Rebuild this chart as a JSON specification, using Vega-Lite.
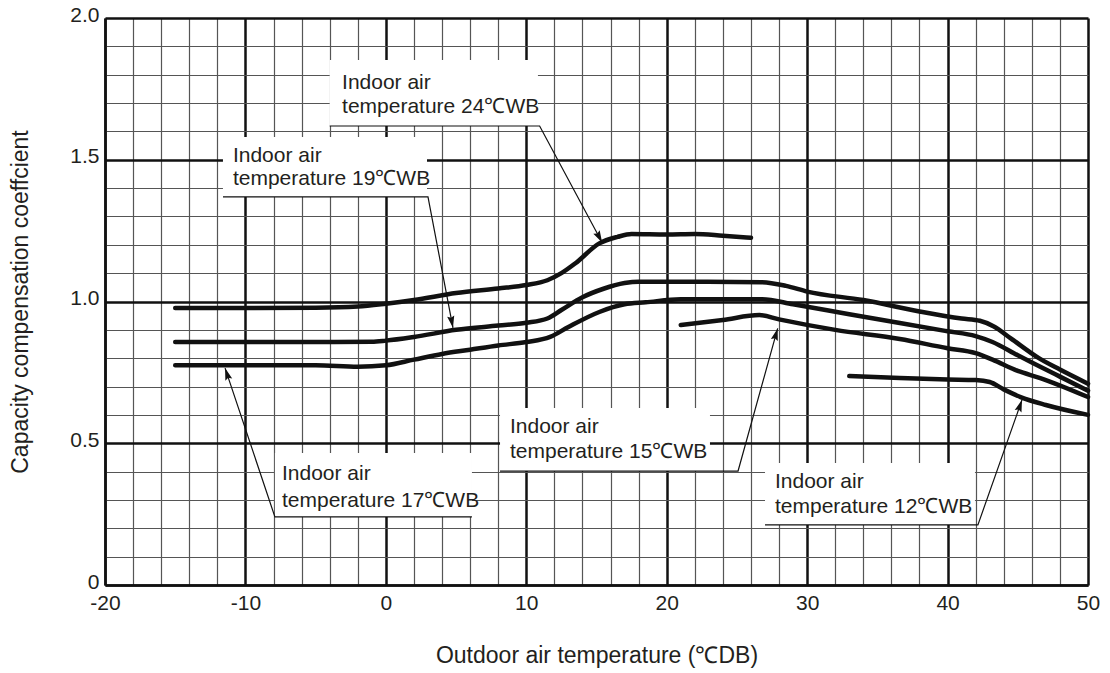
{
  "$schema": "https://vega.github.io/schema/vega-lite/v6.json",
  "width": 983,
  "height": 567,
  "autosize": {"type": "none"},
  "padding": {"left": 105, "top": 18, "right": 22, "bottom": 88},
  "background": "white",
  "config": {"view": {"stroke": null}},
  "layer": [
    {
      "data": {"values": [
        {"label": "24", "x1": -4.0, "x2": 10.83, "ytop": 1.852, "ybot": 1.619},
        {"label": "19", "x1": -11.6, "x2": 2.93, "ytop": 1.58, "ybot": 1.369},
        {"label": "17", "x1": -7.9, "x2": 6.13, "ytop": 0.466, "ybot": 0.24},
        {"label": "15", "x1": 8.13, "x2": 23.08, "ytop": 0.624, "ybot": 0.402},
        {"label": "12", "x1": 27.0, "x2": 41.95, "ytop": 0.43, "ybot": 0.212}
      ]},
      "mark": {"type": "rect", "fill": "white", "stroke": null},
      "encoding": {
        "x": {"field": "x1", "type": "quantitative",
          "scale": {"domain": [-20, 50], "nice": false, "zero": false},
          "axis": {
            "values": [-20,-18,-16,-14,-12,-10,-8,-6,-4,-2,0,2,4,6,8,10,12,14,16,18,20,22,24,26,28,30,32,34,36,38,40,42,44,46,48,50],
            "tickCount": 200,
            "grid": true,
            "gridColor": {"condition": {"test": "datum.value % 10 === 0", "value": "#111111"}, "value": "#555555"},
            "gridWidth": {"condition": {"test": "datum.value % 10 === 0", "value": 2.5}, "value": 1.2},
            "ticks": false,
            "domain": true, "domainColor": "#111111", "domainWidth": 2.5,
            "labelExpr": "datum.value % 10 === 0 ? (datum.value < 0 ? '-' + abs(datum.value) : '' + datum.value) : ''",
            "labelFont": "Liberation Sans", "labelFontSize": 21, "labelColor": "#231f20",
            "labelPadding": 7, "labelFlush": false, "labelOverlap": false,
            "title": "Outdoor air temperature (℃DB)",
            "titleFont": "Liberation Sans", "titleFontSize": 23, "titleFontWeight": "normal", "titleColor": "#231f20",
            "titleX": 491.5, "titleY": 70, "titleBaseline": "middle", "titleAlign": "center"
          }
        },
        "x2": {"field": "x2"},
        "y": {"field": "ytop", "type": "quantitative",
          "scale": {"domain": [0, 2], "nice": false, "zero": false},
          "axis": {
            "values": [0,0.1,0.2,0.3,0.4,0.5,0.6,0.7,0.8,0.9,1.0,1.1,1.2,1.3,1.4,1.5,1.6,1.7,1.8,1.9,2.0],
            "tickCount": 200,
            "grid": true,
            "gridColor": {"condition": {"test": "abs(datum.value*2 - round(datum.value*2)) < 0.001", "value": "#111111"}, "value": "#555555"},
            "gridWidth": {"condition": {"test": "abs(datum.value*2 - round(datum.value*2)) < 0.001", "value": 2.5}, "value": 1.2},
            "ticks": false,
            "domain": true, "domainColor": "#111111", "domainWidth": 2.5,
            "labelExpr": "abs(datum.value*2 - round(datum.value*2)) < 0.001 ? (datum.value === 0 ? '0' : format(datum.value, '.1f')) : ''",
            "labelFont": "Liberation Sans", "labelFontSize": 21, "labelColor": "#231f20",
            "labelPadding": 6, "labelFlush": false, "labelOverlap": false, "labelOffset": -3,
            "title": "Capacity compensation coeffcient",
            "titleFont": "Liberation Sans", "titleFontSize": 23, "titleFontWeight": "normal", "titleColor": "#231f20",
            "titleX": -85, "titleY": 283.5, "titleBaseline": "middle", "titleAlign": "center", "titleAngle": -90
          }
        },
        "y2": {"field": "ybot"}
      }
    },
    {
      "data": {"values": [
        {"series": "24", "x": -15, "y": 0.977}, {"series": "24", "x": -10, "y": 0.977}, {"series": "24", "x": -5, "y": 0.978},
        {"series": "24", "x": -2, "y": 0.982}, {"series": "24", "x": 0, "y": 0.992}, {"series": "24", "x": 2, "y": 1.005},
        {"series": "24", "x": 5, "y": 1.03}, {"series": "24", "x": 8, "y": 1.046}, {"series": "24", "x": 10, "y": 1.058},
        {"series": "24", "x": 11.5, "y": 1.075}, {"series": "24", "x": 12.5, "y": 1.1}, {"series": "24", "x": 13.5, "y": 1.135},
        {"series": "24", "x": 15.2, "y": 1.205}, {"series": "24", "x": 16.5, "y": 1.228}, {"series": "24", "x": 17.5, "y": 1.238},
        {"series": "24", "x": 20, "y": 1.236}, {"series": "24", "x": 22, "y": 1.238}, {"series": "24", "x": 24, "y": 1.232},
        {"series": "24", "x": 26, "y": 1.225},

        {"series": "19", "x": -15, "y": 0.857}, {"series": "19", "x": -5, "y": 0.857}, {"series": "19", "x": -1, "y": 0.858},
        {"series": "19", "x": 0, "y": 0.862}, {"series": "19", "x": 2, "y": 0.875}, {"series": "19", "x": 5, "y": 0.9},
        {"series": "19", "x": 8, "y": 0.915}, {"series": "19", "x": 10, "y": 0.925}, {"series": "19", "x": 11.5, "y": 0.94},
        {"series": "19", "x": 12.5, "y": 0.97}, {"series": "19", "x": 14, "y": 1.015}, {"series": "19", "x": 15.5, "y": 1.045},
        {"series": "19", "x": 17, "y": 1.065}, {"series": "19", "x": 18, "y": 1.07}, {"series": "19", "x": 22, "y": 1.07},
        {"series": "19", "x": 26.8, "y": 1.068}, {"series": "19", "x": 28.5, "y": 1.055}, {"series": "19", "x": 30, "y": 1.035},
        {"series": "19", "x": 34, "y": 1.005}, {"series": "19", "x": 38, "y": 0.965}, {"series": "19", "x": 41, "y": 0.94},
        {"series": "19", "x": 42.3, "y": 0.932}, {"series": "19", "x": 43.3, "y": 0.912}, {"series": "19", "x": 44.5, "y": 0.87},
        {"series": "19", "x": 46.5, "y": 0.8}, {"series": "19", "x": 48, "y": 0.76}, {"series": "19", "x": 50, "y": 0.71},

        {"series": "17", "x": -15, "y": 0.775}, {"series": "17", "x": -5, "y": 0.775}, {"series": "17", "x": -2, "y": 0.77},
        {"series": "17", "x": 0, "y": 0.775}, {"series": "17", "x": 2, "y": 0.795}, {"series": "17", "x": 4, "y": 0.815},
        {"series": "17", "x": 6, "y": 0.83}, {"series": "17", "x": 8, "y": 0.845}, {"series": "17", "x": 10, "y": 0.857},
        {"series": "17", "x": 11.7, "y": 0.875}, {"series": "17", "x": 13, "y": 0.91}, {"series": "17", "x": 15.2, "y": 0.963},
        {"series": "17", "x": 17, "y": 0.99}, {"series": "17", "x": 18.5, "y": 0.997}, {"series": "17", "x": 21, "y": 1.008},
        {"series": "17", "x": 26.8, "y": 1.008}, {"series": "17", "x": 29, "y": 0.99}, {"series": "17", "x": 33, "y": 0.955},
        {"series": "17", "x": 36.6, "y": 0.924}, {"series": "17", "x": 40, "y": 0.895}, {"series": "17", "x": 42, "y": 0.878},
        {"series": "17", "x": 43.2, "y": 0.857}, {"series": "17", "x": 45, "y": 0.81}, {"series": "17", "x": 46.6, "y": 0.77},
        {"series": "17", "x": 48, "y": 0.735}, {"series": "17", "x": 50, "y": 0.685},

        {"series": "15", "x": 21, "y": 0.917}, {"series": "15", "x": 24, "y": 0.935}, {"series": "15", "x": 26.6, "y": 0.952},
        {"series": "15", "x": 28, "y": 0.937}, {"series": "15", "x": 32, "y": 0.9}, {"series": "15", "x": 36.6, "y": 0.868},
        {"series": "15", "x": 40, "y": 0.835}, {"series": "15", "x": 42, "y": 0.818}, {"series": "15", "x": 43.2, "y": 0.795},
        {"series": "15", "x": 45, "y": 0.755}, {"series": "15", "x": 46.6, "y": 0.73}, {"series": "15", "x": 50, "y": 0.663},

        {"series": "12", "x": 33, "y": 0.737}, {"series": "12", "x": 36.6, "y": 0.73}, {"series": "12", "x": 40, "y": 0.725},
        {"series": "12", "x": 42, "y": 0.723}, {"series": "12", "x": 43, "y": 0.716}, {"series": "12", "x": 44, "y": 0.69},
        {"series": "12", "x": 45.2, "y": 0.663}, {"series": "12", "x": 47, "y": 0.635}, {"series": "12", "x": 50, "y": 0.6}
      ]},
      "mark": {"type": "line", "stroke": "#111111", "strokeWidth": 4.5, "strokeCap": "round", "strokeJoin": "round", "interpolate": "monotone"},
      "encoding": {
        "x": {"field": "x", "type": "quantitative"},
        "y": {"field": "y", "type": "quantitative"},
        "detail": {"field": "series"}
      }
    },
    {
      "data": {"values": [
        {"label": "24", "k": 1, "lx": -4.0, "ly": 1.619}, {"label": "24", "k": 2, "lx": 10.95, "ly": 1.619}, {"label": "24", "k": 3, "lx": 15.4, "ly": 1.208},
        {"label": "19", "k": 1, "lx": -11.6, "ly": 1.369}, {"label": "19", "k": 2, "lx": 3.0, "ly": 1.369}, {"label": "19", "k": 3, "lx": 4.78, "ly": 0.907},
        {"label": "17", "k": 1, "lx": 6.13, "ly": 0.24}, {"label": "17", "k": 2, "lx": -7.9, "ly": 0.24}, {"label": "17", "k": 3, "lx": -11.45, "ly": 0.765},
        {"label": "15", "k": 1, "lx": 8.13, "ly": 0.402}, {"label": "15", "k": 2, "lx": 25.08, "ly": 0.402}, {"label": "15", "k": 3, "lx": 27.9, "ly": 0.905},
        {"label": "12", "k": 1, "lx": 27.0, "ly": 0.212}, {"label": "12", "k": 2, "lx": 42.16, "ly": 0.212}, {"label": "12", "k": 3, "lx": 45.3, "ly": 0.653}
      ]},
      "mark": {"type": "line", "stroke": "#111111", "strokeWidth": 1.2, "interpolate": "linear"},
      "encoding": {
        "x": {"field": "lx", "type": "quantitative"},
        "y": {"field": "ly", "type": "quantitative"},
        "detail": {"field": "label"},
        "order": {"field": "k", "type": "quantitative"}
      }
    },
    {
      "data": {"values": [{"label": "24", "ax": 15.4, "ay": 1.208}]},
      "mark": {"type": "point", "shape": "M0,0L-0.6,2L0,1.7L0.6,2Z", "size": 144, "filled": true, "fill": "#111111", "stroke": null, "opacity": 1, "angle": 152},
      "encoding": {"x": {"field": "ax", "type": "quantitative"}, "y": {"field": "ay", "type": "quantitative"}}
    },
    {
      "data": {"values": [{"label": "19", "ax": 4.78, "ay": 0.907}]},
      "mark": {"type": "point", "shape": "M0,0L-0.6,2L0,1.7L0.6,2Z", "size": 144, "filled": true, "fill": "#111111", "stroke": null, "opacity": 1, "angle": 169},
      "encoding": {"x": {"field": "ax", "type": "quantitative"}, "y": {"field": "ay", "type": "quantitative"}}
    },
    {
      "data": {"values": [{"label": "17", "ax": -11.45, "ay": 0.765}]},
      "mark": {"type": "point", "shape": "M0,0L-0.6,2L0,1.7L0.6,2Z", "size": 144, "filled": true, "fill": "#111111", "stroke": null, "opacity": 1, "angle": 342},
      "encoding": {"x": {"field": "ax", "type": "quantitative"}, "y": {"field": "ay", "type": "quantitative"}}
    },
    {
      "data": {"values": [{"label": "15", "ax": 27.9, "ay": 0.905}]},
      "mark": {"type": "point", "shape": "M0,0L-0.6,2L0,1.7L0.6,2Z", "size": 144, "filled": true, "fill": "#111111", "stroke": null, "opacity": 1, "angle": 16},
      "encoding": {"x": {"field": "ax", "type": "quantitative"}, "y": {"field": "ay", "type": "quantitative"}}
    },
    {
      "data": {"values": [{"label": "12", "ax": 45.3, "ay": 0.653}]},
      "mark": {"type": "point", "shape": "M0,0L-0.6,2L0,1.7L0.6,2Z", "size": 144, "filled": true, "fill": "#111111", "stroke": null, "opacity": 1, "angle": 19},
      "encoding": {"x": {"field": "ax", "type": "quantitative"}, "y": {"field": "ay", "type": "quantitative"}}
    },
    {
      "data": {"values": [
        {"label": "24", "tx": -3.12, "ty": 1.75, "text": "Indoor air"},
        {"label": "24", "tx": -3.12, "ty": 1.665, "text": "temperature 24℃WB"},
        {"label": "19", "tx": -10.89, "ty": 1.492, "text": "Indoor air"},
        {"label": "19", "tx": -10.89, "ty": 1.411, "text": "temperature 19℃WB"},
        {"label": "17", "tx": -7.4, "ty": 0.37, "text": "Indoor air"},
        {"label": "17", "tx": -7.4, "ty": 0.275, "text": "temperature 17℃WB"},
        {"label": "15", "tx": 8.84, "ty": 0.536, "text": "Indoor air"},
        {"label": "15", "tx": 8.84, "ty": 0.448, "text": "temperature 15℃WB"},
        {"label": "12", "tx": 27.71, "ty": 0.342, "text": "Indoor air"},
        {"label": "12", "tx": 27.71, "ty": 0.254, "text": "temperature 12℃WB"}
      ]},
      "mark": {"type": "text", "align": "left", "baseline": "alphabetic", "font": "Liberation Sans", "fontSize": 21, "fill": "#231f20"},
      "encoding": {
        "x": {"field": "tx", "type": "quantitative"},
        "y": {"field": "ty", "type": "quantitative"},
        "text": {"field": "text"}
      }
    }
  ]
}
